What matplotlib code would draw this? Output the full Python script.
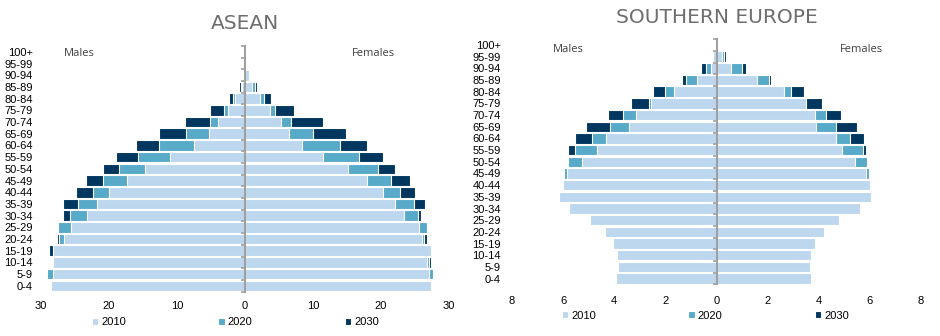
import matplotlib
matplotlib.use("Agg")
import matplotlib.pyplot as plt
import numpy as np

plt.rcParams['font.family'] = ['Liberation Sans', 'DejaVu Sans']

ages = ['0-4', '5-9', '10-14', '15-19', '20-24', '25-29', '30-34', '35-39', '40-44',
        '45-49', '50-54', '55-59', '60-64', '65-69', '70-74', '75-79', '80-84',
        '85-89', '90-94', '95-99', '100+']
years = ['2010', '2020', '2030']

# ASEAN (millions)
asean_m_2010 = [28.6, 28.3, 28.2, 28.3, 26.6, 25.6, 23.3, 21.8, 20.0, 17.4, 14.7, 11.1, 7.45, 5.3, 3.9, 2.45, 1.4, 0.45, 0.2, 0.05, 0.01]
asean_m_2020 = [28.7, 29.1, 28.4, 28.1, 27.4, 27.5, 25.7, 24.5, 22.4, 20.9, 18.6, 15.8, 12.6, 8.7, 5.15, 3.05, 1.7, 0.65, 0.3, 0.08, 0.02]
asean_m_2030 = [28.4, 28.8, 28.6, 28.8, 27.7, 27.2, 26.7, 26.7, 24.9, 23.4, 20.9, 19.0, 16.0, 12.6, 8.8, 5.15, 2.3, 0.9, 0.4, 0.12, 0.03]
asean_f_2010 = [27.3, 27.0, 26.7, 27.3, 26.1, 25.6, 23.4, 22.1, 20.3, 17.9, 15.2, 11.5, 8.4, 6.4, 5.25, 3.7, 2.2, 1.05, 0.6, 0.2, 0.03]
asean_f_2020 = [27.5, 27.7, 27.0, 27.55, 26.3, 26.8, 25.5, 24.85, 22.8, 21.4, 19.5, 16.8, 14.0, 10.0, 6.7, 4.4, 2.8, 1.5, 0.75, 0.25, 0.05]
asean_f_2030 = [27.0, 27.3, 27.3, 27.1, 26.7, 26.5, 25.9, 26.4, 24.95, 24.2, 22.0, 20.3, 17.9, 14.85, 11.4, 7.2, 3.8, 1.8, 0.85, 0.3, 0.08]

# Southern Europe (millions)
se_m_2010 = [3.92, 3.85, 3.88, 4.05, 4.38, 4.93, 5.78, 6.16, 6.0, 5.85, 5.26, 4.68, 4.31, 3.44, 3.16, 2.55, 1.67, 0.77, 0.21, 0.14, 0.01]
se_m_2020 = [3.5, 3.7, 3.8, 3.85, 3.95, 4.3, 4.8, 5.5, 5.9, 5.98, 5.81, 5.55, 4.87, 4.18, 3.66, 2.66, 2.03, 1.18, 0.43, 0.1, 0.01]
se_m_2030 = [3.2, 3.4, 3.55, 3.7, 3.85, 3.95, 4.2, 4.7, 5.3, 5.8, 5.7, 5.81, 5.52, 5.09, 4.25, 3.33, 2.49, 1.35, 0.6, 0.12, 0.02]
se_f_2010 = [3.71, 3.67, 3.71, 3.87, 4.19, 4.79, 5.6, 6.03, 5.99, 5.86, 5.4, 4.92, 4.66, 3.91, 3.84, 3.49, 2.63, 1.6, 0.55, 0.21, 0.02]
se_f_2020 = [3.35, 3.55, 3.65, 3.7, 3.8, 4.15, 4.75, 5.55, 5.95, 5.95, 5.89, 5.75, 5.21, 4.69, 4.3, 3.4, 2.93, 2.06, 0.98, 0.31, 0.04]
se_f_2030 = [3.05, 3.25, 3.4, 3.6, 3.75, 3.85, 4.1, 4.6, 5.25, 5.8, 5.8, 5.86, 5.77, 5.51, 4.88, 4.13, 3.41, 2.12, 1.17, 0.39, 0.06]

colors = {'2010': '#BDD7EE', '2020': '#57AAC8', '2030': '#01365F'}

fig = plt.figure(figsize=(9.4, 3.36), dpi=100)

W, H = 940.0, 336.0
def make_ax(x0, x1, ytop, ybot):
    return fig.add_axes([x0 / W, (H - ybot) / H, (x1 - x0) / W, (ybot - ytop) / H])

ax1 = make_ax(41, 449, 46, 291.7)
ax2 = make_ax(512, 921, 39.2, 284.4)

LBL = 8

def draw(ax, male, female, lim, ticks, title, title_y, label_pad, tick_pad, tick_len):
    y = np.arange(len(ages))
    handles = []
    # back to front: 2030, 2020, 2010
    for yr in ['2030', '2020', '2010']:
        mv = np.array(male[yr])
        fv = np.array(female[yr])
        h = ax.barh(y, -mv, height=0.9, color=colors[yr], edgecolor='white', linewidth=0.8, label=yr)
        ax.barh(y, fv, height=0.9, color=colors[yr], edgecolor='white', linewidth=0.8)
        handles.append(h)
    ax.set_xlim(-lim, lim)
    ax.set_ylim(-0.5, len(ages) - 0.5)
    ax.set_xticks(ticks)
    ax.set_xticklabels([str(abs(int(t))) for t in ticks])
    ax.tick_params(axis='x', length=0, pad=tick_pad, labelsize=LBL)
    ax.set_yticks(y)
    ax.set_yticklabels(ages)
    ax.set_yticks(np.arange(-0.5, len(ages) - 0.4, 1.0), minor=True)
    ax.tick_params(axis='y', which='major', left=True, right=False, length=0, pad=label_pad,
                   labelleft=True, labelsize=LBL)
    ax.tick_params(axis='y', which='minor', left=False, right=True, direction='in',
                   length=tick_len, width=1.2, color='#A0A0A0')
    for s in ['left', 'top', 'bottom']:
        ax.spines[s].set_visible(False)
    ax.spines['right'].set_position(('data', 0))
    ax.spines['right'].set_color('#A0A0A0')
    ax.spines['right'].set_linewidth(1.5)
    ax.spines['right'].set_zorder(5)
    ax.text(0.5, title_y, title, transform=ax.transAxes, ha='center', va='center',
            fontsize=14.5, color='#6E6E6E', family='DejaVu Sans')
    return handles[::-1]

h1 = draw(ax1, {'2010': asean_m_2010, '2020': asean_m_2020, '2030': asean_m_2030},
          {'2010': asean_f_2010, '2020': asean_f_2020, '2030': asean_f_2030},
          30, [-30, -20, -10, 0, 10, 20, 30], 'ASEAN', 1.0 + (46 - 23.3) / 245.7, 6, 6.5, 3)
h2 = draw(ax2, {'2010': se_m_2010, '2020': se_m_2020, '2030': se_m_2030},
          {'2010': se_f_2010, '2020': se_f_2020, '2030': se_f_2030},
          8, [-8, -6, -4, -2, 0, 2, 4, 6, 8], 'SOUTHERN EUROPE', 1.0 + (39.2 - 17.8) / 245.2, 8, 8.5, 3)

# Males / Females labels
fig.text(64 / W, 1 - 54 / H, 'Males', fontsize=8, color='#404040', family='Open Sans', va='center', ha='left')
fig.text(395 / W, 1 - 54 / H, 'Females', fontsize=8, color='#404040', family='Open Sans', va='center', ha='right')
fig.text(553 / W, 1 - 49.5 / H, 'Males', fontsize=8, color='#404040', family='Open Sans', va='center', ha='left')
fig.text(883 / W, 1 - 49.5 / H, 'Females', fontsize=8, color='#404040', family='Open Sans', va='center', ha='right')

leg_kw = dict(ncol=3, frameon=False, handlelength=0.55, handleheight=0.55,
              handletextpad=0.3, columnspacing=8.3, prop={'family': 'Liberation Sans', 'size': LBL})
fig.legend(h1, years, loc='center left', bbox_to_anchor=(92 / W, 1 - 322.3 / H), borderaxespad=0, borderpad=0, **leg_kw)
fig.legend(h2, years, loc='center left', bbox_to_anchor=(562 / W, 1 - 315.7 / H), borderaxespad=0, borderpad=0, **leg_kw)

fig.savefig('out.png', dpi=100)
